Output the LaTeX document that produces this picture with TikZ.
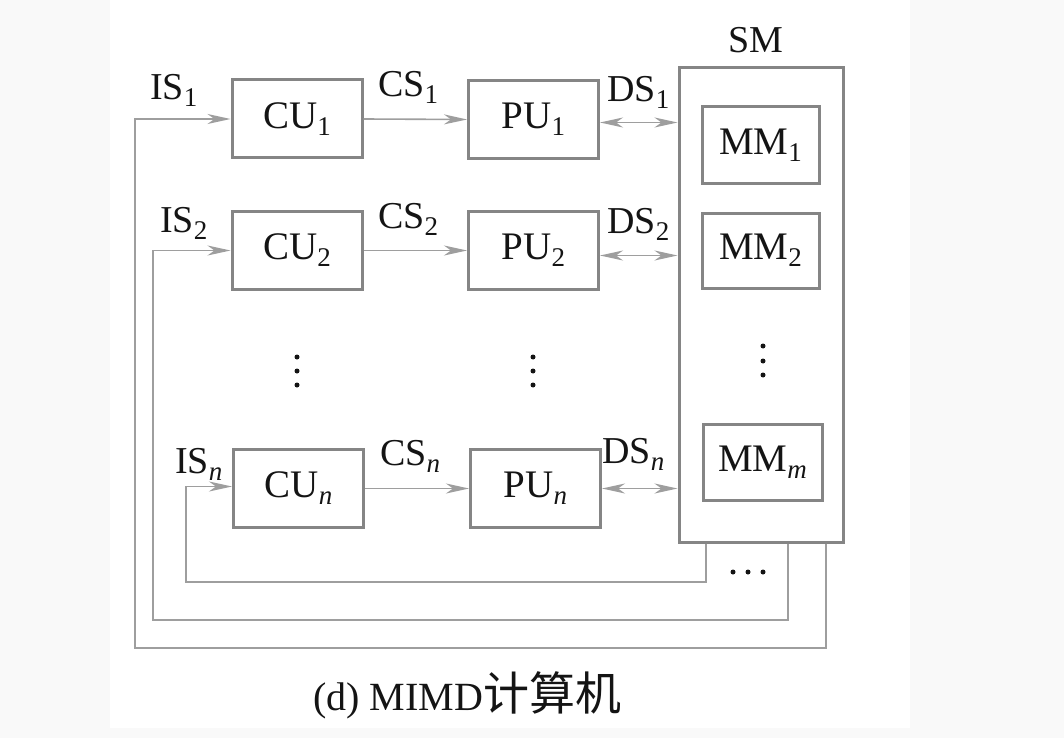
\documentclass[tikz,border=0pt]{standalone}
\usepackage{fontspec}
\setmainfont{Liberation Serif}
\newfontfamily\cjk{Noto Sans CJK SC}
\usetikzlibrary{arrows.meta}
\definecolor{boxgray}{HTML}{858585}
\definecolor{linegray}{HTML}{9E9E9E}
\definecolor{ink}{HTML}{141414}
\definecolor{pagegray}{HTML}{F9F9F9}
% lowered, smaller index after a unit name
\newcommand{\idx}[1]{\raisebox{-7pt}{\fontsize{27}{30}\selectfont #1}}
\begin{document}
\begin{tikzpicture}[x=1pt,y=-1pt,
  unit/.style={draw=boxgray, line width=3pt, minimum width=130pt, minimum height=78pt,
    inner sep=0pt, text=ink, font=\fontsize{39}{44}\selectfont},
  mem/.style={unit, minimum width=117pt, minimum height=76pt},
  lbl/.style={text=ink, inner sep=0pt, font=\fontsize{38}{42}\selectfont},
  wire/.style={draw=linegray, line width=1.6pt},
  tip/.tip={Stealth[length=23pt,width=10pt,inset=7pt]},
  sig/.style={wire, -tip},
  bus/.style={wire, tip-tip},
  dotmark/.style={circle, fill=ink, inner sep=0pt, minimum size=5pt}]

% page and panel
\path[use as bounding box] (0,0) rectangle (1064,738);
\fill[pagegray] (0,0) rectangle (1064,738);
\fill[white] (110,0) rectangle (910,728);

% control units
\node[unit] (CU1) at (297,119)   {CU\idx{1}};
\node[unit] (CU2) at (297,250.5) {CU\idx{2}};
\node[unit] (CUn) at (298.5,488.5) {CU\idx{\itshape n}};

% processing units
\node[unit] (PU1) at (533.5,119.5) {PU\idx{1}};
\node[unit] (PU2) at (533.5,250.5) {PU\idx{2}};
\node[unit] (PUn) at (535.5,488.5) {PU\idx{\itshape n}};

% shared memory with its modules
\node[unit, minimum width=164pt, minimum height=474pt] (SM) at (761,305) {};
\node[mem] (MM1) at (760.5,145)   {MM\idx{1}};
\node[mem, minimum height=75pt] (MM2) at (760.5,250.5) {MM\idx{2}};
\node[mem, minimum width=119pt] (MMm) at (762.5,462) {MM\idx{\itshape m}};
\node[lbl, anchor=base west] (SMl) at (728,53) {SM};

% control streams
\draw[sig] (CU1.east) -- (PU1.west);
\draw[sig] (CU2.east) -- (PU2.west);
\draw[sig] (CUn.east) -- (PUn.west);
\node[lbl, anchor=base west] (CS1) at (378,97)  {CS\idx{1}};
\node[lbl, anchor=base west] (CS2) at (378,228) {CS\idx{2}};
\node[lbl, anchor=base west] (CSn) at (380,465) {CS\idx{\itshape n}};

% data streams
\draw[bus] ([yshift=-3pt]PU1.east) -- ([yshift=-3pt]PU1.east -| SM.west);
\draw[bus] ([yshift=-5pt]PU2.east) -- ([yshift=-5pt]PU2.east -| SM.west);
\draw[bus] (PUn.east) -- (PUn.east -| SM.west);
\node[lbl, anchor=base west] (DS1) at (607,102) {DS\idx{1}};
\node[lbl, anchor=base west] (DS2) at (607,233) {DS\idx{2}};
\node[lbl, anchor=base west] (DSn) at (602,463) {DS\idx{\itshape n}};

% instruction streams fed back from the shared memory
\coordinate (r1) at (826,648);
\coordinate (l1) at (135,648);
\coordinate (r2) at (788,620);
\coordinate (l2) at (153,620);
\coordinate (rn) at (706,582);
\coordinate (ln) at (186,582);
\draw[sig] (SM.south -| r1) -- (r1) -- (l1) -- (l1 |- CU1.west) -- (CU1.west);
\draw[sig] (SM.south -| r2) -- (r2) -- (l2) -- (l2 |- CU2.west) -- (CU2.west);
\draw[sig] (SM.south -| rn) -- (rn) -- (ln) -- ([yshift=2pt]ln |- CUn.west) -- ([yshift=2pt]CUn.west);
\node[lbl, anchor=base west] (IS1) at (150,100) {IS\idx{1}};
\node[lbl, anchor=base west] (IS2) at (160,232) {IS\idx{2}};
\node[lbl, anchor=base west] (ISn) at (175,473) {IS\idx{\itshape n}};

% ellipses
\foreach \yy in {357,371,385} {
  \node[dotmark] at (297,\yy) {};
  \node[dotmark] at (533,\yy) {};
}
\foreach \yy in {346,361,375} \node[dotmark] at (763,\yy) {};
\foreach \xx in {733,748,763} \node[dotmark] at (\xx,572) {};

% caption
\node[lbl, anchor=base west, font=\fontsize{40}{46}\selectfont] (cap) at (313,710)
  {(d) MIMD{\cjk\fontsize{46}{50}\selectfont 计算机}};
\end{tikzpicture}
\end{document}
